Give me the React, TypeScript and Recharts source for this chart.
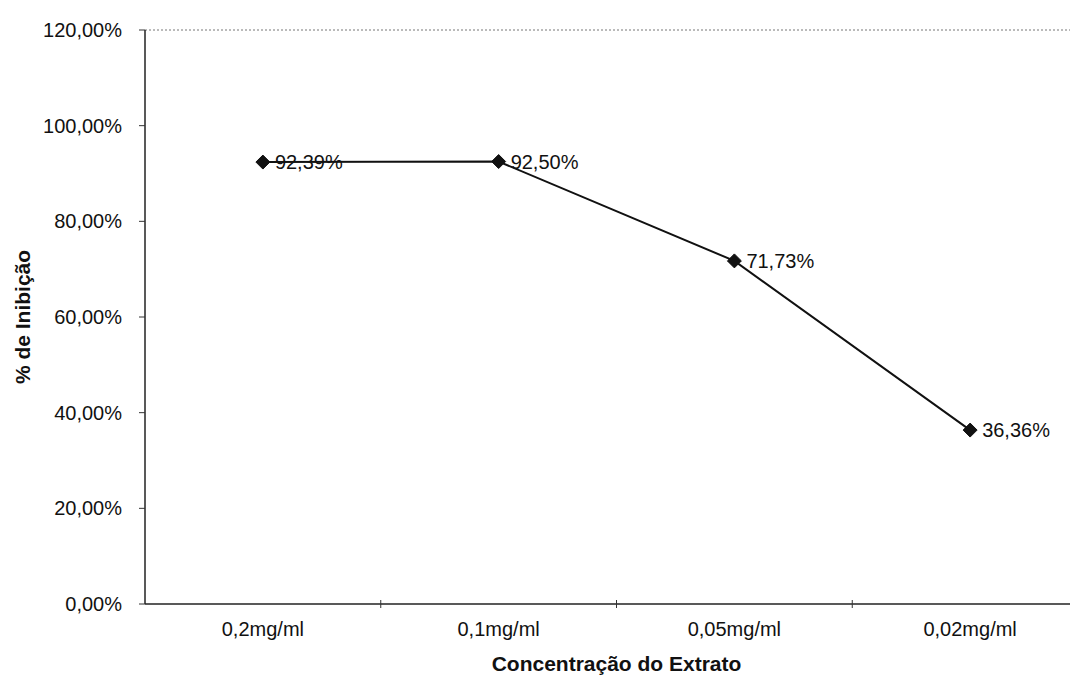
import { LineChart, Line, XAxis, YAxis, ReferenceLine, LabelList } from 'recharts';

const categories = ['0,2mg/ml', '0,1mg/ml', '0,05mg/ml', '0,02mg/ml'];
const inhibition = [92.39, 92.5, 71.73, 36.36];
const yTicks = [0, 20, 40, 60, 80, 100, 120];

const data = categories.map((name, i) => ({ name, value: inhibition[i] }));

const FONT = '"Liberation Sans", Arial, sans-serif';
const CHART_W = 1090;
const CHART_H = 677;
const MARGIN = { top: 30, right: 2, bottom: 0, left: 10 };
const Y_AXIS_W = 135;
const BAND = (CHART_W - MARGIN.left - MARGIN.right - Y_AXIS_W) / categories.length;

const fmt = (v: number) => v.toFixed(2).replace('.', ',') + '%';

function XTick(props: any) {
  const { x, y, payload, index } = props;
  return (
    <g>
      {index < categories.length - 1 && (
        <line x1={x + BAND / 2} x2={x + BAND / 2} y1={y - 4} y2={y + 4} stroke="#333" strokeWidth={1} />
      )}
      <text x={x} y={y + 32} textAnchor="middle" fontSize={20} fontFamily={FONT} fill="#111">
        {payload.value}
      </text>
    </g>
  );
}

function Diamond(props: any) {
  const { cx, cy } = props;
  if (cx == null || cy == null) return null;
  const s = 7;
  return (
    <polygon
      points={`${cx},${cy - s} ${cx + s},${cy} ${cx},${cy + s} ${cx - s},${cy}`}
      fill="#111"
      stroke="#111"
    />
  );
}

function ValueLabel(props: any) {
  const { x, y, value } = props;
  return (
    <text x={x + 12} y={y + 7} fontSize={20} fontFamily={FONT} fill="#111">
      {fmt(value)}
    </text>
  );
}

export default function App() {
  return (
    <div style={{ position: 'absolute', left: 0, top: 0, width: 1070, height: 677, overflow: 'hidden', background: '#fff' }}>
      <LineChart width={CHART_W} height={CHART_H} data={data} margin={MARGIN}>
        <XAxis
          dataKey="name"
          height={73}
          padding={{ left: BAND / 2, right: BAND / 2 }}
          axisLine={{ stroke: '#222', strokeWidth: 1.5 }}
          tickLine={false}
          tick={<XTick />}
          tickSize={0}
          tickMargin={0}
          interval={0}
          label={{
            value: 'Concentração do Extrato',
            position: 'insideBottom',
            offset: 6,
            fontSize: 21,
            fontWeight: 'bold',
            fontFamily: FONT,
            fill: '#111',
          }}
        />
        <YAxis
          width={Y_AXIS_W}
          domain={[0, 120]}
          ticks={yTicks}
          interval={0}
          tickFormatter={fmt}
          axisLine={{ stroke: '#222', strokeWidth: 1.5 }}
          tickLine={{ stroke: '#333' }}
          tickSize={6}
          tickMargin={17}
          tick={{ fontSize: 20, fontFamily: FONT, fill: '#111' }}
          label={{
            content: (p: any) => {
              const vb = p.viewBox;
              const cx = vb.x + 12;
              const cy = vb.y + vb.height / 2;
              return (
                <text
                  x={cx}
                  y={cy}
                  transform={`rotate(-90, ${cx}, ${cy})`}
                  textAnchor="middle"
                  dominantBaseline="central"
                  fontSize={21}
                  fontWeight="bold"
                  fontFamily={FONT}
                  fill="#111"
                >
                  % de Inibição
                </text>
              );
            },
          }}
        />
        <ReferenceLine y={120} stroke="#777" strokeDasharray="2 2" strokeWidth={1} />
        <Line
          type="linear"
          dataKey="value"
          stroke="#111"
          strokeWidth={2}
          dot={<Diamond />}
          activeDot={false}
          isAnimationActive={false}
        >
          <LabelList dataKey="value" content={<ValueLabel />} />
        </Line>
      </LineChart>
    </div>
  );
}
